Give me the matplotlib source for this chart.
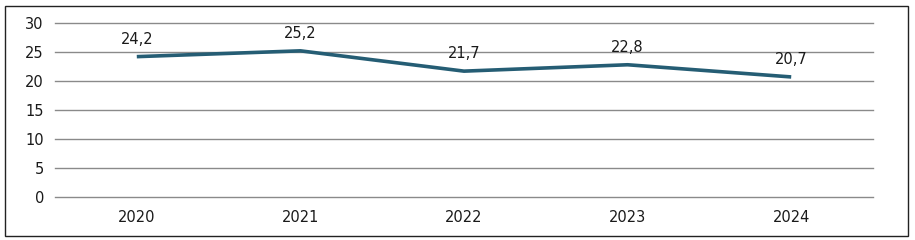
import matplotlib.pyplot as plt
from matplotlib.patches import Rectangle

years = ['2020', '2021', '2022', '2023', '2024']
values = [24.2, 25.2, 21.7, 22.8, 20.7]
labels = ['24,2', '25,2', '21,7', '22,8', '20,7']
yticks = [0, 5, 10, 15, 20, 25, 30]

fig = plt.figure(figsize=(9.15, 2.4), dpi=100)
ax = fig.add_axes([55 / 915, 1 - 197 / 240, 818 / 915, 174 / 240])

x = list(range(len(years)))
ax.plot(x, values, color='#255d74', linewidth=2.6, solid_capstyle='butt', zorder=3)

for xi, v, lab in zip(x, values, labels):
    ax.annotate(lab, (xi, v), xytext=(0, 7), textcoords='offset points',
                ha='center', va='bottom', fontsize=10.5, color='#1a1a1a')

ax.set_xlim(-0.5, len(years) - 0.5)
ax.set_ylim(0, 30)
ax.set_yticks(yticks)
ax.set_xticks(x)
ax.set_xticklabels(years)
ax.yaxis.grid(True, color='#8a8a8a', linewidth=1)
for gl in ax.get_ygridlines():
    gl.set_clip_on(False)
ax.set_axisbelow(True)
for s in ax.spines.values():
    s.set_visible(False)
ax.tick_params(length=0, labelsize=10.5, labelcolor='#1a1a1a')
ax.tick_params(axis='y', pad=8)
ax.tick_params(axis='x', pad=9)

fig.patches.append(Rectangle((5 / 915, 4 / 240), 903 / 915, 230 / 240,
                             transform=fig.transFigure, fill=False,
                             edgecolor='#222222', linewidth=1))

fig.savefig('out.png', dpi=100)
